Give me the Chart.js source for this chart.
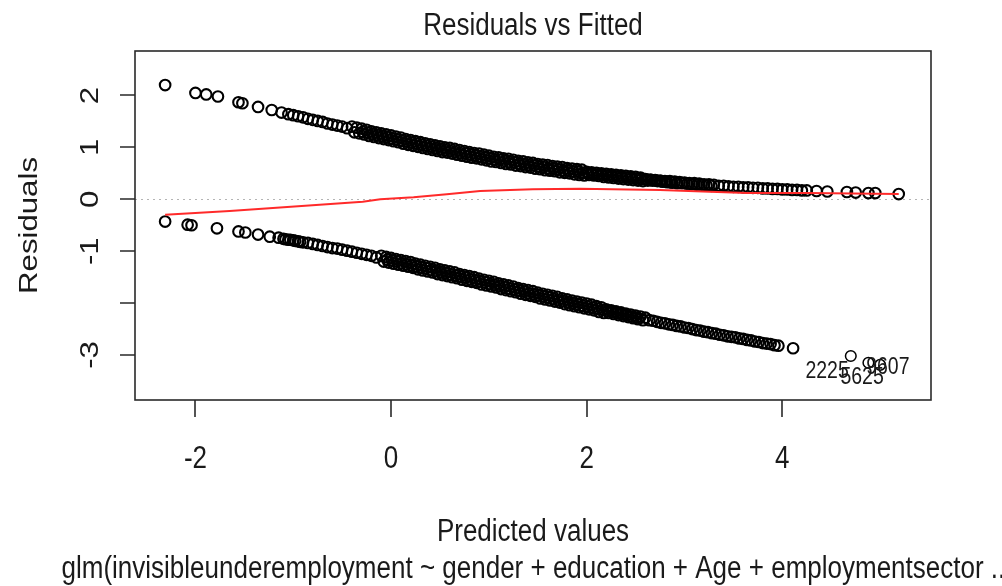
<!DOCTYPE html>
<html>
<head>
<meta charset="utf-8">
<title>Residuals vs Fitted</title>
<script src="https://cdn.jsdelivr.net/npm/chart.js@4.4.1/dist/chart.umd.min.js"></script>
<style>
html,body{margin:0;padding:0;background:#fff;}
canvas{display:block;}
</style>
</head>
<body>
<canvas id="chart" width="1002" height="586"></canvas>
<script>
// residuals of the y = 1 cases (upper branch)
const upperX = [
  -2.31,-2.00,-1.89,-1.77,-1.56,-1.52,-1.36,-1.22,-1.12,
  -1.05,-1.00,-0.95,-0.90,-0.85,-0.80,-0.75,-0.70,-0.65,-0.60,-0.55,-0.50,-0.45,
  -0.400,-0.375,-0.350,-0.325,-0.300,-0.275,-0.250,-0.225,-0.200,-0.175,-0.150,-0.125,-0.100,-0.075,-0.050,-0.025,
  0.000,0.025,0.050,0.075,0.100,0.125,0.150,0.175,0.200,0.225,0.250,0.275,0.300,0.325,0.350,0.375,
  0.400,0.425,0.450,0.475,0.500,0.525,0.550,0.575,0.600,0.625,0.650,0.675,0.700,0.725,0.750,0.775,
  0.800,0.825,0.850,0.875,0.900,0.925,0.950,0.975,1.000,1.025,1.050,1.075,1.100,1.125,1.150,1.175,
  1.200,1.225,1.250,1.275,1.300,1.325,1.350,1.375,1.400,1.425,1.450,1.475,1.500,1.525,1.550,1.575,
  1.600,1.625,1.650,1.675,1.700,1.725,1.750,1.775,1.800,1.825,1.850,1.875,1.900,1.925,1.950,1.975,
  2.000,2.025,2.050,2.075,2.100,2.125,2.150,2.175,2.200,2.225,2.250,2.275,2.300,2.325,2.350,2.375,
  2.400,2.425,2.450,2.475,2.500,2.525,2.550,2.575,2.600,2.625,2.650,2.675,2.700,2.725,2.750,2.775,
  2.800,2.825,2.850,2.875,2.900,2.925,2.950,2.975,3.000,3.025,3.050,3.075,3.100,3.125,3.150,3.175,
  3.200,3.225,3.250,3.275,3.300,
  3.35,3.40,3.45,3.50,3.55,3.60,3.65,3.70,3.75,3.80,3.85,3.90,3.95,4.00,4.05,4.10,4.15,4.20,4.25,
  4.35,4.46,4.66,4.75,4.88,4.95,5.19,
  // middle of the solid band
  -0.29,-0.24,-0.19,-0.14,-0.09,-0.04,0.01,0.06,0.11,0.16,0.21,0.26,0.31,0.36,0.41,0.46,
  0.51,0.56,0.61,0.66,0.71,0.76,0.81,0.86,0.91,0.96,1.01,1.06,1.11,1.16,1.21,1.26,
  1.31,1.36,1.41,1.46,1.51,1.56,1.61,1.66,1.71,1.76,1.81,1.86,1.91,1.96,2.01,2.06,
  2.11,2.16,2.21,2.26,2.31,2.36,2.41,2.46,2.51,2.56,2.61,2.66,2.71,2.76,2.81,2.86
];
const upperY = [
  2.20,2.05,2.02,1.98,1.87,1.85,1.78,1.72,1.67,
  1.64,1.62,1.60,1.58,1.55,1.53,1.51,1.49,1.46,1.44,1.42,1.40,1.37,
  1.40,1.29,1.38,1.27,1.36,1.25,1.34,1.22,1.31,1.20,1.29,1.18,1.27,1.16,1.25,1.14,
  1.23,1.12,1.21,1.10,1.19,1.07,1.16,1.05,1.14,1.03,1.12,1.01,1.10,0.99,1.08,0.97,
  1.06,0.95,1.04,0.93,1.02,0.91,1.00,0.90,0.99,0.88,0.97,0.86,0.95,0.84,0.93,0.82,
  0.91,0.80,0.89,0.79,0.88,0.77,0.86,0.75,0.84,0.73,0.82,0.72,0.81,0.70,0.79,0.68,
  0.78,0.67,0.76,0.65,0.74,0.64,0.73,0.62,0.71,0.61,0.70,0.59,0.68,0.58,0.67,0.56,
  0.66,0.55,0.64,0.54,0.63,0.52,0.62,0.51,0.60,0.50,0.59,0.48,0.58,0.47,0.57,0.46,
  0.53,0.47,0.52,0.46,0.51,0.45,0.50,0.43,0.49,0.42,0.48,0.41,0.47,0.40,0.46,0.39,
  0.45,0.38,0.44,0.37,0.43,0.36,0.42,0.35,0.39,0.36,0.38,0.36,0.37,0.35,0.36,0.34,
  0.35,0.33,0.35,0.32,0.34,0.31,0.33,0.31,0.32,0.30,0.31,0.29,0.31,0.28,0.30,0.28,
  0.29,0.27,0.29,0.26,0.28,
  0.26,0.26,0.25,0.24,0.24,0.23,0.23,0.22,0.22,0.21,0.21,0.20,0.20,0.19,0.19,0.18,0.18,0.17,0.17,
  0.16,0.15,0.14,0.13,0.12,0.12,0.10,
  1.30,1.28,1.26,1.24,1.22,1.20,1.17,1.15,1.13,1.11,1.09,1.07,1.05,1.03,1.01,0.99,
  0.97,0.95,0.93,0.91,0.89,0.88,0.86,0.84,0.82,0.81,0.79,0.77,0.76,0.74,0.72,0.71,
  0.69,0.68,0.66,0.65,0.63,0.62,0.60,0.59,0.58,0.56,0.55,0.54,0.53,0.51,0.50,0.49,
  0.48,0.47,0.46,0.45,0.44,0.43,0.42,0.41,0.40,0.39,0.38,0.37,0.36,0.35,0.34,0.33
];

// residuals of the y = 0 cases (lower branch)
const lowerX = [
  -2.31,-2.08,-2.04,-1.78,-1.56,-1.49,-1.36,-1.24,
  -1.15,-1.10,-1.08,-1.05,-1.03,-1.00,-0.98,-0.95,-0.93,-0.90,-0.85,-0.80,-0.75,-0.70,-0.65,
  -0.60,-0.55,-0.50,-0.45,-0.40,-0.35,-0.30,-0.25,-0.20,-0.15,
  -0.100,-0.075,-0.050,-0.025,
  0.000,0.025,0.050,0.075,0.100,0.125,0.150,0.175,0.200,0.225,0.250,0.275,0.300,0.325,0.350,0.375,
  0.400,0.425,0.450,0.475,0.500,0.525,0.550,0.575,0.600,0.625,0.650,0.675,0.700,0.725,0.750,0.775,
  0.800,0.825,0.850,0.875,0.900,0.925,0.950,0.975,1.000,1.025,1.050,1.075,1.100,1.125,1.150,1.175,
  1.200,1.225,1.250,1.275,1.300,1.325,1.350,1.375,1.400,1.425,1.450,1.475,1.500,1.525,1.550,1.575,
  1.600,1.625,1.650,1.675,1.700,1.725,1.750,1.775,1.800,1.825,1.850,1.875,1.900,1.925,1.950,1.975,
  2.000,2.025,2.050,2.075,2.100,2.125,2.150,2.175,2.200,2.225,2.250,2.275,2.300,2.325,2.350,2.375,
  2.400,2.425,2.450,2.475,2.500,2.525,2.550,2.575,2.600,
  2.64,2.68,2.72,2.76,2.80,2.84,2.88,2.92,2.96,3.00,3.04,3.08,3.12,3.16,3.20,3.24,3.28,3.32,
  3.36,3.40,3.44,3.48,3.52,3.56,3.60,3.64,3.68,3.72,3.76,3.80,3.84,3.88,3.92,3.96,
  4.11,
  // middle of the solid band
  -0.04,0.01,0.06,0.11,0.16,0.21,0.26,0.31,0.36,0.41,0.46,0.51,0.56,0.61,0.66,0.71,
  0.76,0.81,0.86,0.91,0.96,1.01,1.06,1.11,1.16,1.21,1.26,1.31,1.36,1.41,1.46,1.51,
  1.56,1.61,1.66,1.71,1.76,1.81,1.86,1.91,1.96,2.01,2.06,2.11,2.16,2.21,2.26,2.31,
  2.36,2.41,2.46,2.51
];
const lowerY = [
  -0.43,-0.49,-0.50,-0.56,-0.62,-0.64,-0.68,-0.72,
  -0.74,-0.76,-0.77,-0.78,-0.78,-0.79,-0.80,-0.81,-0.82,-0.83,-0.84,-0.86,-0.88,-0.90,-0.92,
  -0.94,-0.95,-0.97,-0.99,-1.01,-1.03,-1.05,-1.07,-1.09,-1.12,
  -1.09,-1.20,-1.11,-1.22,
  -1.13,-1.24,-1.15,-1.26,-1.17,-1.28,-1.19,-1.30,-1.21,-1.32,-1.24,-1.35,-1.26,-1.37,-1.28,-1.39,
  -1.30,-1.41,-1.32,-1.44,-1.35,-1.46,-1.37,-1.48,-1.39,-1.50,-1.41,-1.52,-1.44,-1.55,-1.46,-1.57,
  -1.48,-1.59,-1.50,-1.61,-1.53,-1.64,-1.55,-1.66,-1.57,-1.68,-1.59,-1.70,-1.62,-1.73,-1.64,-1.75,
  -1.66,-1.77,-1.68,-1.79,-1.71,-1.82,-1.73,-1.84,-1.75,-1.86,-1.77,-1.88,-1.80,-1.91,-1.82,-1.93,
  -1.84,-1.95,-1.86,-1.97,-1.88,-1.99,-1.91,-2.02,-1.93,-2.04,-1.95,-2.06,-1.97,-2.08,-1.99,-2.10,
  -2.01,-2.12,-2.03,-2.14,-2.06,-2.17,-2.08,-2.19,-2.12,-2.19,-2.14,-2.21,-2.16,-2.23,-2.18,-2.25,
  -2.20,-2.27,-2.22,-2.29,-2.24,-2.31,-2.26,-2.33,-2.28,
  -2.33,-2.34,-2.36,-2.38,-2.39,-2.41,-2.42,-2.44,-2.45,-2.47,-2.48,-2.50,-2.52,-2.53,-2.55,-2.56,-2.58,-2.59,
  -2.61,-2.62,-2.64,-2.65,-2.66,-2.68,-2.69,-2.71,-2.72,-2.74,-2.75,-2.77,-2.78,-2.79,-2.81,-2.82,
  -2.87,
  -1.16,-1.18,-1.20,-1.23,-1.25,-1.27,-1.29,-1.31,-1.33,-1.36,-1.38,-1.40,-1.42,-1.45,-1.47,-1.49,
  -1.51,-1.54,-1.56,-1.58,-1.60,-1.63,-1.65,-1.67,-1.69,-1.72,-1.74,-1.76,-1.78,-1.81,-1.83,-1.85,
  -1.87,-1.89,-1.92,-1.94,-1.96,-1.98,-2.00,-2.02,-2.05,-2.07,-2.09,-2.11,-2.13,-2.15,-2.17,-2.19,
  -2.21,-2.23,-2.26,-2.28
];

// the three flagged observations
const outX = [4.70, 4.88, 5.00];
const outY = [-3.02, -3.15, -3.19];
const outLabels = ['2225', '5625', '9607'];

// red smoother
const smoothX = [-2.31,-1.65,-0.62,-0.29,-0.11,0.23,0.57,0.91,1.45,1.93,2.75,3.26,3.64,4.25,5.19];
const smoothY = [-0.30,-0.225,-0.09,-0.046,0.0,0.04,0.096,0.16,0.193,0.204,0.18,0.146,0.12,0.12,0.10];

const xTicks = [-2, 0, 2, 4];
const yTicks = [-3, -2, -1, 0, 1, 2];
const yTickLabels = ['-3', '', '-1', '0', '1', '2'];

const title = 'Residuals vs Fitted';
const xTitle = 'Predicted values';
const yTitle = 'Residuals';
const subTitle = 'glm(invisibleunderemployment ~ gender + education + Age + employmentsector ...';

const pts = (xs, ys) => xs.map((x, i) => ({ x: x, y: ys[i] }));

const FONT = '"Liberation Sans", Arial, sans-serif';
const STRETCH = 1.2; // the picture is a little taller than R drew it
const INK = '#1a1a1a';

// label offsets (px) for the flagged points: right / left aligned next to them
const idStyle = [
  { dx: -2, dy: 22, align: 'right' },
  { dx: -28, dy: 21, align: 'left' },
  { dx: -14, dy: 9, align: 'left' }
];

function text(ctx, t, x, y, size, align, rotated){
  ctx.save();
  ctx.translate(x, y);
  if(rotated){ ctx.rotate(-Math.PI / 2); ctx.scale(STRETCH, 1); }
  else ctx.scale(1, STRETCH);
  ctx.font = size + 'px ' + FONT;
  ctx.textAlign = align || 'center';
  ctx.textBaseline = 'alphabetic';
  ctx.fillStyle = INK;
  ctx.fillText(t, 0, 0);
  ctx.restore();
}

const rFrame = {
  id: 'rFrame',
  beforeDatasetsDraw(chart){
    const { ctx, chartArea: a, scales } = chart;
    const y0 = Math.round(scales.y.getPixelForValue(0)) + 0.5;
    ctx.save();
    ctx.strokeStyle = '#b4b4b4';
    ctx.lineWidth = 1.2;
    ctx.setLineDash([2, 4]);
    ctx.beginPath();
    ctx.moveTo(a.left, y0);
    ctx.lineTo(a.right, y0);
    ctx.stroke();
    ctx.restore();
  },
  afterDraw(chart){
    const { ctx, chartArea: a, scales } = chart;
    ctx.save();
    ctx.strokeStyle = '#2a2a2a';
    ctx.lineWidth = 1.6;
    ctx.strokeRect(a.left, a.top, a.right - a.left, a.bottom - a.top);

    ctx.beginPath();
    xTicks.forEach(v => {
      const px = Math.round(scales.x.getPixelForValue(v));
      ctx.moveTo(px, a.bottom);
      ctx.lineTo(px, a.bottom + 17);
    });
    yTicks.forEach(v => {
      const py = Math.round(scales.y.getPixelForValue(v));
      ctx.moveTo(a.left, py);
      ctx.lineTo(a.left - 15, py);
    });
    ctx.stroke();
    ctx.restore();

    xTicks.forEach(v => {
      text(ctx, String(v), scales.x.getPixelForValue(v), 468, 26, 'center', false);
    });
    yTicks.forEach((v, i) => {
      if(yTickLabels[i]) text(ctx, yTickLabels[i], 98, scales.y.getPixelForValue(v), 26, 'center', true);
    });

    const cx = (a.left + a.right) / 2;
    text(ctx, title, cx, 35, 26, 'center', false);
    text(ctx, xTitle, cx, 541, 26, 'center', false);
    text(ctx, subTitle, cx + 4, 578, 26, 'center', false);
    text(ctx, yTitle, 37, (a.top + a.bottom) / 2, 26, 'center', true);

    const meta = chart.getDatasetMeta(3);
    meta.data.forEach((p, i) => {
      const s = idStyle[i];
      text(ctx, outLabels[i], p.x + s.dx, p.y + s.dy, 19.5, s.align, false);
    });
  }
};

const pointStyle = {
  pointRadius: 5.3,
  pointBorderWidth: 2.1,
  pointBorderColor: '#000',
  pointBackgroundColor: 'rgba(0,0,0,0)',
  pointHoverRadius: 5.3,
  showLine: false,
  order: 1
};

new Chart(document.getElementById('chart'), {
  type: 'scatter',
  data: {
    datasets: [
      { type: 'line', data: pts(smoothX, smoothY), borderColor: '#ff2a2a', borderWidth: 2,
        pointRadius: 0, showLine: true, fill: false, tension: 0, order: 0 },
      Object.assign({ data: pts(upperX, upperY) }, pointStyle),
      Object.assign({ data: pts(lowerX, lowerY) }, pointStyle),
      Object.assign({ data: pts(outX, outY) }, pointStyle, { pointBorderWidth: 1.5 })
    ]
  },
  options: {
    responsive: false,
    animation: false,
    devicePixelRatio: 1,
    events: [],
    layout: { padding: { left: 135, top: 51, right: 71, bottom: 186 } },
    plugins: { legend: { display: false }, tooltip: { enabled: false } },
    scales: {
      x: { type: 'linear', min: -2.618, max: 5.52, display: false },
      y: { type: 'linear', min: -3.867, max: 2.857, display: false }
    }
  },
  plugins: [rFrame]
});
</script>
</body>
</html>
